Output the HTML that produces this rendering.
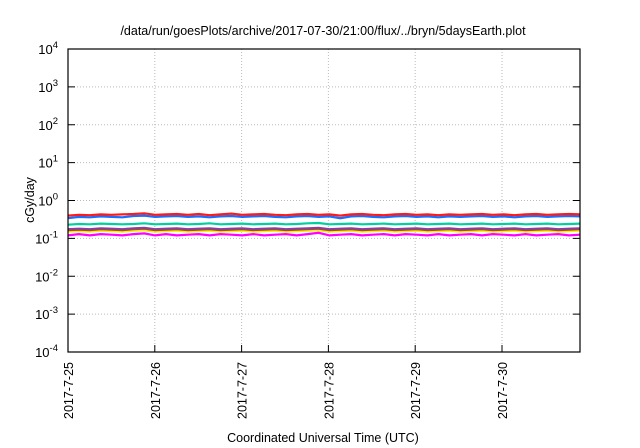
<!DOCTYPE html>
<html><head><meta charset="utf-8"><style>
body{margin:0;background:#fff}
svg{display:block;font-family:"Liberation Sans",sans-serif}
</style></head><body>
<svg width="640" height="448">
<text x="323" y="35" font-size="12.5" text-anchor="middle">/data/run/goesPlots/archive/2017-07-30/21:00/flux/../bryn/5daysEarth.plot</text>
<g id="grid"></g><g id="series"></g><g id="axes"></g>
<text x="323" y="442" font-size="12.5" text-anchor="middle">Coordinated Universal Time (UTC)</text>
<text transform="translate(34,200) rotate(-90)" font-size="12.5" text-anchor="middle">cGy/day</text>
</svg>
<script>
const dayLabels=["2017-7-25","2017-7-26","2017-7-27","2017-7-28","2017-7-29","2017-7-30"];
const yExps=[4,3,2,1,0,-1,-2,-3,-4];
const seriesColors=["#ff00ff","#ffee00","#a0522d","#8a3fa0","#00d0a0","#1a6fff","#ff1a1a"];
const magenta=[0.12,0.13,0.12,0.13,0.125,0.12,0.13,0.135,0.12,0.13,0.12,0.125,0.13,0.12,0.13,0.125,0.12,0.13,0.12,0.125,0.13,0.12,0.13,0.14,0.12,0.125,0.13,0.12,0.125,0.13,0.12,0.13,0.125,0.12,0.13,0.12,0.125,0.13,0.12,0.13,0.125,0.12,0.13,0.12,0.125,0.13,0.12,0.125];
const yellow=[0.15,0.155,0.15,0.16,0.155,0.15,0.16,0.165,0.15,0.155,0.16,0.15,0.155,0.16,0.15,0.155,0.16,0.15,0.155,0.16,0.15,0.155,0.16,0.165,0.15,0.155,0.16,0.15,0.155,0.16,0.15,0.155,0.16,0.15,0.155,0.16,0.15,0.155,0.16,0.15,0.155,0.16,0.15,0.155,0.16,0.15,0.155,0.16];
const brown=[0.165,0.17,0.165,0.175,0.17,0.165,0.175,0.18,0.165,0.17,0.175,0.165,0.17,0.175,0.165,0.17,0.175,0.165,0.17,0.175,0.165,0.17,0.175,0.18,0.165,0.17,0.175,0.165,0.17,0.175,0.165,0.17,0.175,0.165,0.17,0.175,0.165,0.17,0.175,0.165,0.17,0.175,0.165,0.17,0.175,0.165,0.17,0.175];
const purple=[0.175,0.18,0.175,0.185,0.18,0.175,0.185,0.19,0.175,0.18,0.185,0.175,0.18,0.185,0.175,0.18,0.185,0.175,0.18,0.185,0.175,0.18,0.185,0.19,0.175,0.18,0.185,0.175,0.18,0.185,0.175,0.18,0.185,0.175,0.18,0.185,0.175,0.18,0.185,0.175,0.18,0.185,0.175,0.18,0.185,0.175,0.18,0.185];
const cyan=[0.23,0.24,0.235,0.245,0.24,0.235,0.24,0.25,0.235,0.24,0.245,0.235,0.24,0.25,0.235,0.24,0.245,0.235,0.24,0.245,0.235,0.24,0.25,0.255,0.235,0.24,0.245,0.235,0.24,0.245,0.235,0.24,0.245,0.235,0.24,0.245,0.235,0.24,0.245,0.235,0.24,0.245,0.235,0.24,0.245,0.235,0.24,0.245];
const blue=[0.34,0.37,0.36,0.38,0.37,0.36,0.39,0.4,0.37,0.38,0.39,0.37,0.38,0.36,0.38,0.39,0.37,0.38,0.39,0.37,0.36,0.38,0.39,0.37,0.38,0.34,0.38,0.39,0.37,0.36,0.38,0.39,0.37,0.38,0.36,0.38,0.37,0.38,0.39,0.37,0.38,0.36,0.38,0.39,0.37,0.38,0.39,0.38];
const red=[0.4,0.42,0.41,0.43,0.42,0.43,0.44,0.46,0.42,0.43,0.44,0.42,0.44,0.41,0.43,0.45,0.42,0.43,0.44,0.42,0.41,0.43,0.44,0.42,0.43,0.4,0.43,0.44,0.42,0.41,0.43,0.44,0.42,0.43,0.41,0.43,0.42,0.43,0.44,0.42,0.43,0.41,0.43,0.44,0.42,0.43,0.44,0.43];
const allSeries=[magenta,yellow,brown,purple,cyan,blue,red];
const L=68,R=580,T=49,B=352,dayW=86.8;
const ns="http://www.w3.org/2000/svg";
function xDay(d){return L+d*dayW;}
function yLog(v){return B-(Math.log10(v)+4)*(B-T)/8;}
function mk(tag,attrs,parent){const e=document.createElementNS(ns,tag);for(const k in attrs)e.setAttribute(k,attrs[k]);parent.appendChild(e);return e;}
const grid=document.getElementById('grid'),axes=document.getElementById('axes'),ser=document.getElementById('series');
yExps.forEach(ex=>{const y=yLog(Math.pow(10,ex));
 if(ex<4&&ex>-4){const g=mk('line',{x1:L,x2:R,y1:y,y2:y,stroke:'#bbb','stroke-dasharray':'1,2','stroke-width':1},grid);
 
 }
 const t=mk('line',{x1:L,x2:L+7,y1:y,y2:y,stroke:'#000'},axes);
 
 
 const t2=mk('line',{x1:R-7,x2:R,y1:y,y2:y,stroke:'#000'},axes);
 
 
 const tx=mk('text',{x:L-10,y:y+5,'font-size':13,'text-anchor':'end'},axes);
 
 
 tx.innerHTML='10<tspan dy="-6" font-size="9.5">'+ex+'</tspan>';});
dayLabels.forEach((lab,i)=>{const x=xDay(i);
 if(i>0){const g=mk('line',{x1:x,x2:x,y1:T,y2:B,stroke:'#bbb','stroke-dasharray':'1,2'},grid);
 
 }
 const t=mk('line',{x1:x,x2:x,y1:B-7,y2:B,stroke:'#000'},axes);
 
 
 const tx=mk('text',{transform:`translate(${x+5},${B+10}) rotate(-90)`,'font-size':12.5,'text-anchor':'end'},axes);
 
 
 tx.textContent=lab;});
const fr=mk('rect',{x:L,y:T,width:R-L,height:B-T,fill:'none',stroke:'#000','stroke-width':1.2},axes);


const span=(R-L)/dayW;
allSeries.forEach((arr,si)=>{const pts=arr.map((v,i)=>xDay(i*span/(arr.length-1)).toFixed(1)+','+yLog(v).toFixed(1)).join(' ');
 const p=mk('polyline',{points:pts,fill:'none',stroke:seriesColors[si],'stroke-width':2.2},ser);
 
 });
</script>
</body></html>
